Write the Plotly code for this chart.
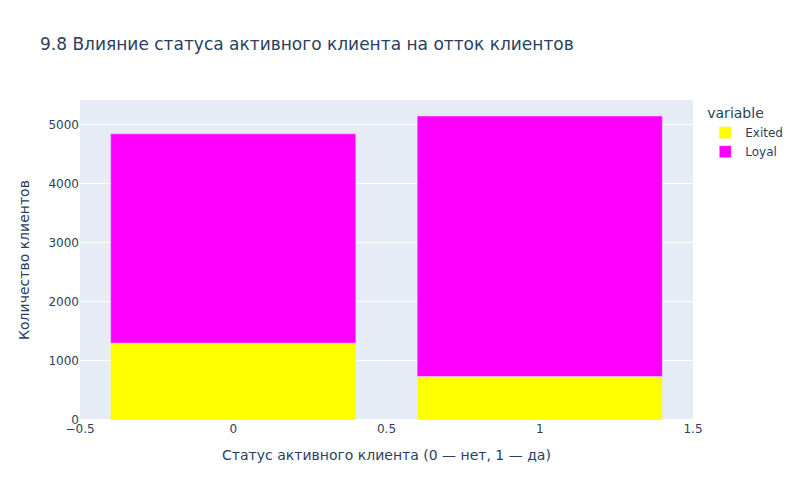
import plotly.graph_objects as go

status = [0, 1]
exited = [1302, 735]
loyal = [3547, 4416]

fig = go.Figure()
fig.add_trace(go.Bar(x=status, y=exited, name="Exited", marker_color="yellow"))
fig.add_trace(go.Bar(x=status, y=loyal, name="Loyal", marker_color="magenta"))
fig.update_layout(
    barmode="relative",
    template="plotly",
    width=800, height=500,
    font_family="DejaVu Sans",
    title_text="9.8 Влияние статуса активного клиента на отток клиентов",
    legend_title_text="variable",
    legend_tracegroupgap=0,
    xaxis_title_text="Статус активного клиента (0 — нет, 1 — да)",
    yaxis_title_text="Количество клиентов",
    xaxis=dict(tickmode="linear", tick0=-0.5, dtick=0.5, range=[-0.5, 1.5]),
)
fig.write_html("out.html")
